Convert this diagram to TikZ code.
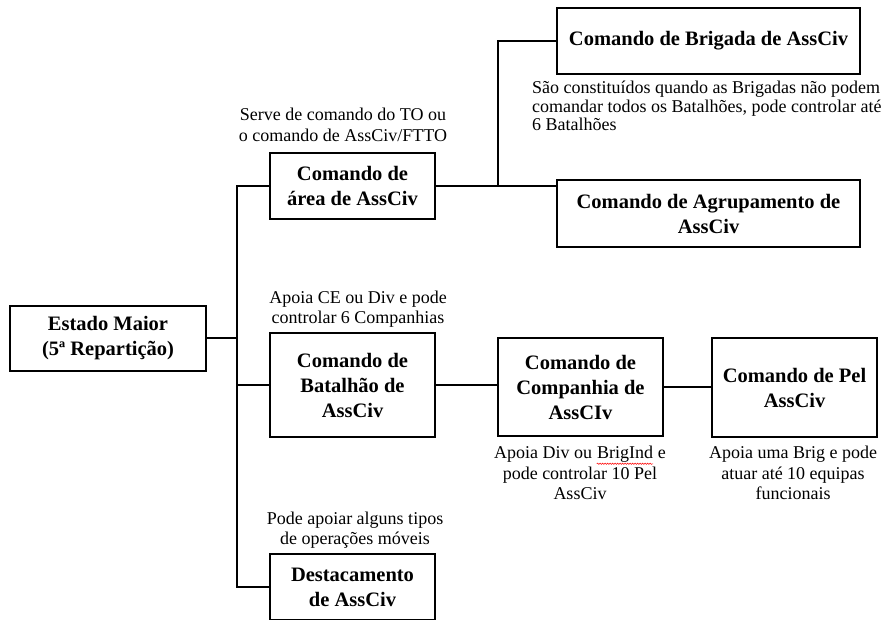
\documentclass[tikz,border=0pt]{standalone}
\usepackage{fontspec}
\setmainfont{Liberation Serif}
\usetikzlibrary{decorations.pathmorphing}

\tikzset{
  unit/.style={draw, line width=2pt, fill=white, align=center, inner sep=2pt,
    font=\fontsize{20.5}{25}\selectfont\bfseries},
  note/.style={align=center, inner sep=0pt, font=\fontsize{18}{20.5}\selectfont},
  link/.style={line width=2pt}
}
\newcommand\redwave[1]{\tikz[baseline=(w.base)]{\node[inner sep=0pt] (w) {#1};
  \draw[red, line width=0.5pt, decorate, decoration={snake, amplitude=0.7pt, segment length=2.5pt}]
    ([yshift=-1pt]w.south west) -- ([yshift=-1pt]w.south east);}}

\begin{document}
\begin{tikzpicture}[x=1pt,y=-1pt]
      \useasboundingbox (0,0) rectangle (890,619);
      \def\boxw{165pt}

      \node[unit, minimum width=196pt, minimum height=65pt] (em) at (108,338) {Estado Maior\\(5ª Repartição)};
      \node[unit, minimum width=\boxw, minimum height=66pt] (area) at (352.5,186) {Comando de\\área de AssCiv};
      \node[unit, minimum width=303pt, minimum height=66pt] (brig) at (708.5,41) {Comando de Brigada de AssCiv};
      \node[unit, minimum width=303pt, minimum height=67pt] (agr) at (708.5,213.5) {Comando de Agrupamento de\\AssCiv};
      \node[unit, minimum width=\boxw, minimum height=104pt] (bat) at (352.5,385) {Comando de\\Batalhão de\\AssCiv};
      \node[unit, minimum width=\boxw, minimum height=98pt] (comp) at (580.5,387) {Comando de\\Companhia de\\AssCIv};
      \node[unit, minimum width=\boxw, minimum height=99pt] (pel) at (794.5,387.5) {Comando de Pel\\AssCiv};
      \node[unit, minimum width=\boxw, minimum height=66pt] (dest) at (352.5,587) {Destacamento\\de AssCiv};

      % notas
      \node[note] (areanote) at (343,125) {Serve de comando do TO ou\\o comando de AssCiv/FTTO};
      \node[note, align=left, anchor=west, font=\fontsize{18}{18.5}\selectfont] (brignote) at (532,106) {São constituídos quando as Brigadas não podem\\comandar todos os Batalhões, pode controlar até\\6 Batalhões};
      \node[note] (batnote) at (358,309) {Apoia CE ou Div e pode\\controlar 6 Companhias};
      \node[note] (compnote) at (580,473) {Apoia Div ou \redwave{BrigInd} e\\pode controlar 10 Pel\\AssCiv};
      \node[note] (pelnote) at (793,473) {Apoia uma Brig e pode\\atuar até 10 equipas\\funcionais};
      \node[note] (destnote) at (355,530) {Pode apoiar alguns tipos\\de operações móveis};

      \coordinate (spine) at (237,338);
      \coordinate (fork) at (498,0);

      \draw[link] (em.east) -- (spine);
      \draw[link] (area.west) -| (spine) |- (dest.west);
      \draw[link] (spine |- bat.west) -- (bat.west);
      \draw[link] (area.east) -- (area.east -| agr.west);
      \draw[link] (fork |- area.east) |- (brig.west);
      \draw[link] (bat.east) -- (bat.east -| comp.west);
      \draw[link] (comp.east) -- (comp.east -| pel.west);
    \end{tikzpicture}
\end{document}
